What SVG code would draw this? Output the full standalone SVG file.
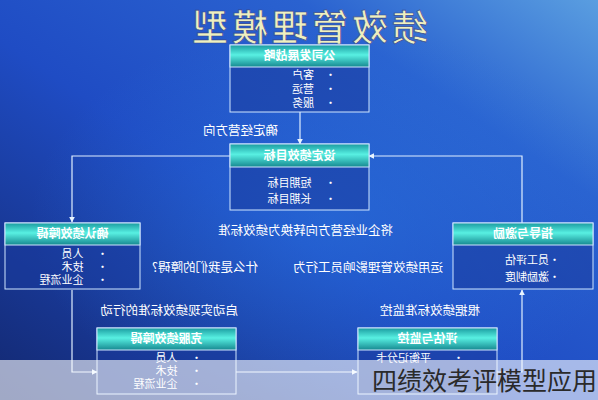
<svg xmlns="http://www.w3.org/2000/svg" width="598" height="400" viewBox="0 0 598 400">
<defs>
<linearGradient id="bg" x1="0" y1="1" x2="1" y2="0">
<stop offset="0" stop-color="#132870"/>
<stop offset="0.45" stop-color="#1f4cc4"/>
<stop offset="0.75" stop-color="#2a62d0"/>
<stop offset="1" stop-color="#5a9ee0"/>
</linearGradient>
<radialGradient id="glow" cx="0.55" cy="0.55" r="0.5">
<stop offset="0" stop-color="#2a78e0" stop-opacity="0.5"/>
<stop offset="1" stop-color="#2a78e0" stop-opacity="0"/>
</radialGradient>
<linearGradient id="hdr" x1="0" y1="0" x2="0" y2="1">
<stop offset="0" stop-color="#1a9ca0"/>
<stop offset="0.45" stop-color="#58f0e2"/>
<stop offset="1" stop-color="#168890"/>
</linearGradient>
<marker id="ah" viewBox="0 0 10 10" refX="9" refY="5" markerWidth="6" markerHeight="6" orient="auto" markerUnits="userSpaceOnUse">
<path d="M0,0 L10,5 L0,10 z" fill="#e8f4ff"/>
</marker>
<style>
.box{fill:#1a3a9c;fill-opacity:0.55;stroke:#cfe6ff;stroke-width:1}
.hd{fill:url(#hdr);stroke:#cfe6ff;stroke-width:1}
.ht{font-family:"Noto Sans CJK SC",sans-serif;font-size:12px;font-weight:bold;fill:#ffffff;text-anchor:middle}
.it{font-family:"Noto Sans CJK SC",sans-serif;font-size:11px;fill:#ffffff}
.lb{font-family:"Noto Sans CJK SC",sans-serif;font-size:12.5px;fill:#ffffff}
.cn{fill:none;stroke:#e0eeff;stroke-width:1.2}
</style>
</defs>
<rect width="598" height="400" fill="url(#bg)"/>
<rect width="598" height="400" fill="url(#glow)"/>
<g transform="translate(598,0) scale(-1,1)">
<text x="290" y="41" font-family="Noto Sans CJK SC, sans-serif" font-size="36" font-weight="500" letter-spacing="4" fill="#eef0c0" stroke="#3a4a90" stroke-width="0.7" text-anchor="middle">绩效管理模型</text>
<g id="connectors">
<line class="cn" x1="298" y1="112" x2="298" y2="144" marker-end="url(#ah)"/>
<polyline class="cn" points="367,156 526,156 526,222" marker-end="url(#ah)"/>
<polyline class="cn" points="526,290 526,372 501,372" marker-end="url(#ah)"/>
<line class="cn" x1="362" y1="372" x2="241" y2="372" marker-end="url(#ah)"/>
<polyline class="cn" points="101,372 76,372 76,290" marker-end="url(#ah)"/>
<polyline class="cn" points="76,223 76,156 229,156" marker-end="url(#ah)"/>
</g>
<g id="n-strategy">
<rect class="box" x="229" y="45" width="139" height="67"/>
<rect class="hd" x="229" y="45" width="139" height="22"/>
<text class="ht" x="298.5" y="60">公司发展战略</text>
<text class="it" x="262" y="79">•　客户</text>
<text class="it" x="262" y="93">•　营运</text>
<text class="it" x="262" y="107">•　服务</text>
</g>
<g id="n-goals">
<rect class="box" x="229" y="144" width="139" height="66"/>
<rect class="hd" x="229" y="144" width="139" height="23"/>
<text class="ht" x="298.5" y="160">设定绩效目标</text>
<text class="it" x="262" y="187">•　 短期目标</text>
<text class="it" x="262" y="203">•　 长期目标</text>
</g>
<g id="n-identify">
<rect class="box" x="458" y="223" width="135" height="66"/>
<rect class="hd" x="458" y="223" width="135" height="22"/>
<text class="ht" x="525.5" y="238">确认绩效障碍</text>
<text class="it" x="490" y="258">•　 人员</text>
<text class="it" x="490" y="271">•　 技术</text>
<text class="it" x="490" y="284">•　 企业流程</text>
</g>
<g id="n-coach">
<rect class="box" x="5" y="223" width="140" height="66"/>
<rect class="hd" x="5" y="223" width="140" height="22"/>
<text class="ht" x="75" y="238">指导与激励</text>
<text class="it" x="38" y="264">•员工评估</text>
<text class="it" x="38" y="281">•激励制度</text>
</g>
<g id="n-overcome">
<rect class="box" x="362" y="328" width="139" height="66"/>
<rect class="hd" x="362" y="328" width="139" height="22"/>
<text class="ht" x="431.5" y="343">克服绩效障碍</text>
<text class="it" x="396" y="362">•　 人员</text>
<text class="it" x="396" y="375">•　 技术</text>
<text class="it" x="396" y="388">•　 企业流程</text>
</g>
<g id="n-evaluate">
<rect class="box" x="101" y="328" width="139" height="66"/>
<rect class="hd" x="101" y="328" width="139" height="22"/>
<text class="ht" x="170.5" y="343">评估与监控</text>
<text class="it" x="134" y="362">•　　平衡记分卡</text>
</g>
<g id="labels">
<text class="lb" x="320" y="135">确定经营方向</text>
<text class="lb" x="205" y="235">将企业经营方向转换为绩效标准</text>
<text class="lb" x="340" y="272">什么是我们的障碍?</text>
<text class="lb" x="155" y="272">运用绩效管理影响员工行为</text>
<text class="lb" x="360" y="315">启动实现绩效标准的行动</text>
<text class="lb" x="118" y="315">根据绩效标准监控</text>
</g>
</g>
<rect x="0" y="360" width="598" height="40" fill="#ffffff" fill-opacity="0.6"/>
<text x="372" y="390" font-family="Noto Sans CJK SC, sans-serif" font-size="25" fill="#2a2a2a">四绩效考评模型应用</text>
</svg>
